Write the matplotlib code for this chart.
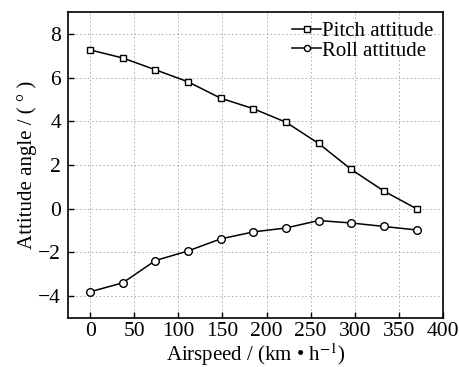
import matplotlib
matplotlib.use("Agg")
import matplotlib.pyplot as plt

plt.rcParams["font.family"] = ["Liberation Serif", "DejaVu Serif"]
plt.rcParams["mathtext.fontset"] = "stix"

airspeed = [0, 37, 74, 111, 148, 185, 222, 259, 296, 333, 370]
pitch = [7.27, 6.9, 6.36, 5.81, 5.06, 4.58, 3.96, 2.99, 1.80, 0.81, 0.0]
roll = [-3.80, -3.39, -2.37, -1.93, -1.38, -1.06, -0.88, -0.54, -0.65, -0.81, -0.97]

x_ticks = [0, 50, 100, 150, 200, 250, 300, 350, 400]
y_ticks = [-4, -2, 0, 2, 4, 6, 8]

fig = plt.figure(figsize=(4.6, 3.67), dpi=100)
ax = fig.add_axes([0.148, 0.1335, 0.815, 0.8335])

ax.plot(airspeed, pitch, "k-", marker="s", ms=5, mfc="white", mec="black",
        mew=1.0, lw=1.1, label="Pitch attitude")
ax.plot(airspeed, roll, "k-", marker="o", ms=5.5, mfc="white", mec="black",
        mew=1.0, lw=1.1, label="Roll attitude")

ax.set_xlim(-25, 400)
ax.set_ylim(-5, 9)
ax.set_xticks(x_ticks)
ax.set_yticks(y_ticks)
ax.set_yticklabels([str(v).replace("-", "\u2212") for v in y_ticks])
ax.tick_params(direction="in", length=4, width=1, labelsize=15.5)
ax.tick_params(axis="x", pad=3)
ax.tick_params(axis="y", pad=5)
ax.grid(True, linestyle=(0, (1.5, 2.5)), color="#aaaaaa", lw=0.7)
for s in ax.spines.values():
    s.set_linewidth(1.2)

ax.set_xlabel("Airspeed / (km \u2022 h$^{-1}$)", fontsize=15, labelpad=0)
ax.set_ylabel("Attitude angle / ( \u00b0 )", fontsize=15, labelpad=1)

leg = ax.legend(loc="upper right", frameon=False, fontsize=15,
                handlelength=1.4, handletextpad=0.05, borderaxespad=0.35,
                labelspacing=0.0, borderpad=0.1, markerscale=0.8)

fig.savefig("out.png", dpi=100)
